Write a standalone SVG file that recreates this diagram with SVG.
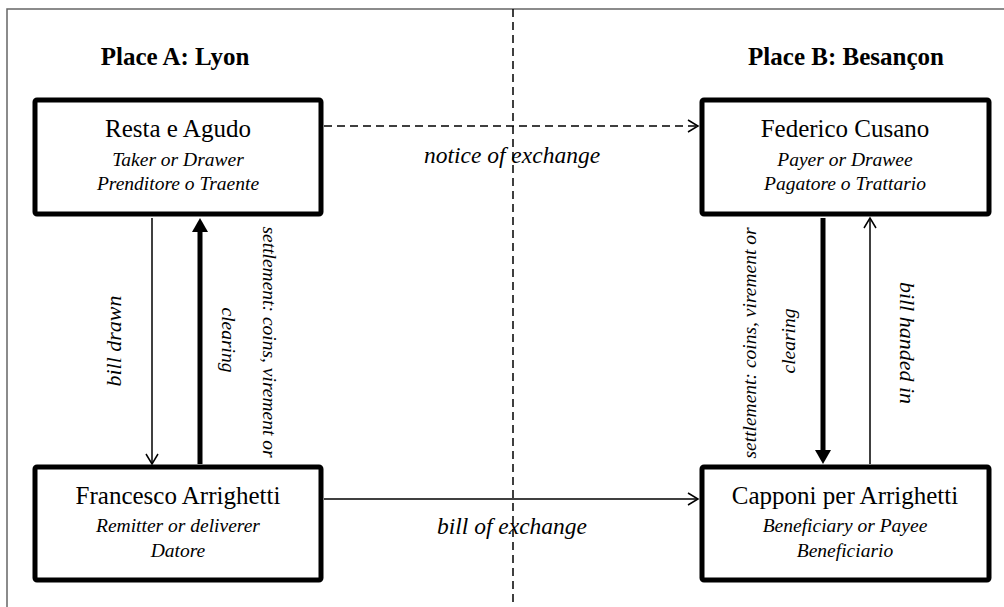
<svg xmlns="http://www.w3.org/2000/svg" width="1004" height="607" viewBox="0 0 1004 607">
<style>
text{font-family:"Liberation Serif","Times New Roman",serif;fill:#000}
.title{font-size:25px;font-weight:bold;text-anchor:middle}
.name{font-size:25px;text-anchor:middle}
.role{font-size:19.5px;font-style:italic;text-anchor:middle}
.lbl{font-size:23.5px;font-style:italic;text-anchor:middle}
.rlbl{font-size:22px;font-style:italic;text-anchor:middle}
.slbl{font-size:19.5px;font-style:italic;text-anchor:middle}
.box{fill:#fff;stroke:#000;stroke-width:5}
.thin{stroke:#000;stroke-width:1.5;fill:none}
.thick{stroke:#000;stroke-width:5;fill:none}
</style>
<defs>
<marker id="open" markerUnits="userSpaceOnUse" markerWidth="16" markerHeight="16" viewBox="-12 -8 14 16" refX="0" refY="0" orient="auto">
<path d="M-10,-6 L0,0 L-10,6" fill="none" stroke="#000" stroke-width="1.5"/>
</marker>
</defs>
<rect width="1004" height="607" fill="#fff"/>
<path d="M7,607 L7,9 L1004,9" fill="none" stroke="#666" stroke-width="1.5"/>
<line x1="513" y1="9" x2="513" y2="607" stroke="#000" stroke-width="1.5" stroke-dasharray="8,5"/>
<text class="title" x="175" y="65">Place A: Lyon</text>
<text class="title" x="846" y="65">Place B: Besançon</text>
<g id="connectors">
<line x1="324" y1="126" x2="698" y2="126" class="thin" stroke-dasharray="8,5" marker-end="url(#open)"/>
<line x1="152" y1="218" x2="152" y2="464" class="thin" marker-end="url(#open)"/>
<line x1="200" y1="464" x2="200" y2="230" class="thick"/>
<path d="M192,232 L200,218 L208,232 Z" fill="#000"/>
<line x1="823" y1="218" x2="823" y2="452" class="thick"/>
<path d="M815,450 L823,464 L831,450 Z" fill="#000"/>
<line x1="870" y1="464" x2="870" y2="218" class="thin" marker-end="url(#open)"/>
<line x1="324" y1="499" x2="698" y2="499" class="thin" marker-end="url(#open)"/>
<text class="lbl" x="512" y="163">notice of exchange</text>
<text class="lbl" x="512" y="534">bill of exchange</text>
<text class="rlbl" transform="translate(121,341) rotate(-90)">bill drawn</text>
<text class="slbl" transform="translate(263,342) rotate(90)">settlement: coins, virement or</text>
<text class="slbl" transform="translate(222,340) rotate(90)">clearing</text>
<text class="slbl" transform="translate(756,343) rotate(-90)">settlement: coins, virement or</text>
<text class="slbl" transform="translate(795,341) rotate(-90)">clearing</text>
<text class="rlbl" transform="translate(900,343) rotate(90)">bill handed in</text>
</g>
<g id="resta">
<rect class="box" x="35" y="100" width="286" height="114" rx="2"/>
<text class="name" x="178" y="137">Resta e Agudo</text>
<text class="role" x="178" y="166">Taker or Drawer</text>
<text class="role" x="178" y="190">Prenditore o Traente</text>
</g>
<g id="federico">
<rect class="box" x="702" y="100" width="287" height="114" rx="2"/>
<text class="name" x="845" y="137">Federico Cusano</text>
<text class="role" x="845" y="166">Payer or Drawee</text>
<text class="role" x="845" y="190">Pagatore o Trattario</text>
</g>
<g id="francesco">
<rect class="box" x="35" y="467" width="286" height="113" rx="2"/>
<text class="name" x="178" y="504">Francesco Arrighetti</text>
<text class="role" x="178" y="532">Remitter or deliverer</text>
<text class="role" x="178" y="557">Datore</text>
</g>
<g id="capponi">
<rect class="box" x="702" y="467" width="287" height="113" rx="2"/>
<text class="name" x="845" y="504">Capponi per Arrighetti</text>
<text class="role" x="845" y="532">Beneficiary or Payee</text>
<text class="role" x="845" y="557">Beneficiario</text>
</g>
</svg>
